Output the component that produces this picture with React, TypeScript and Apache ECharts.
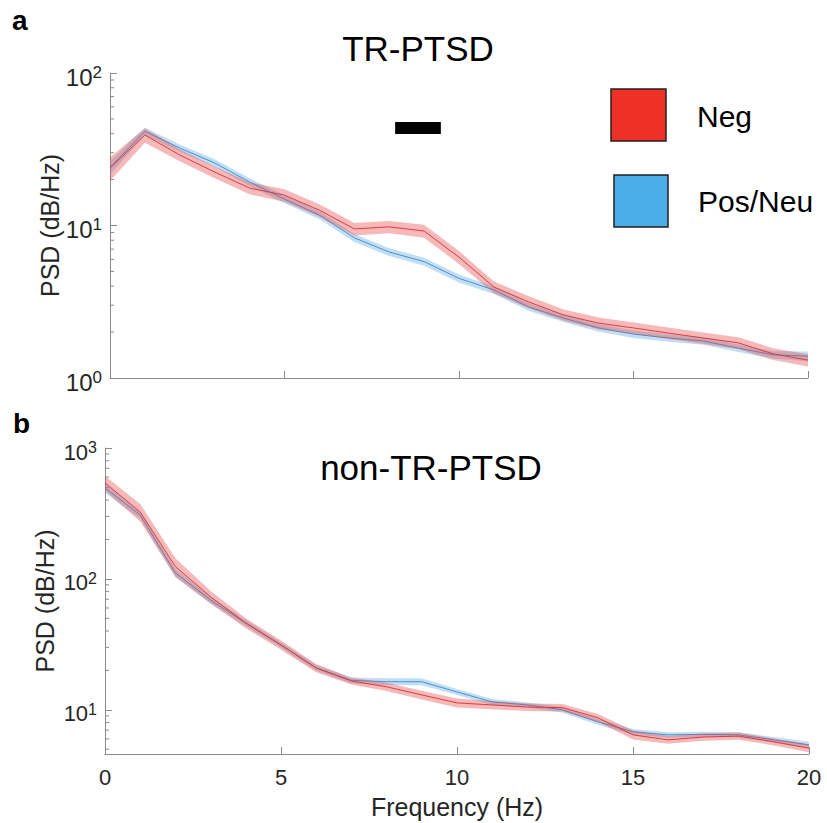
import React, { useEffect, useRef } from "react";
import * as echarts from "echarts";

// ---------- data ----------
const freq = [0, 1, 2, 3, 4, 5, 6, 7, 8, 9, 10, 11, 12, 13, 14, 15, 16, 17, 18, 19, 20];

// Panel a: TR-PTSD
const negTR = [23.8, 39.2, 29, 22.4, 17.6, 15.8, 12.6, 9.5, 9.8, 9.2, 6.2, 3.95, 3.15, 2.59, 2.29, 2.13, 1.97, 1.83, 1.7, 1.44, 1.31];
const negTRErr = [4.2, 4.3, 2.6, 2.0, 1.6, 1.5, 1.2, 0.9, 0.9, 0.9, 0.6, 0.35, 0.28, 0.22, 0.2, 0.18, 0.17, 0.16, 0.15, 0.13, 0.12];
const posTR = [24, 41.5, 32.2, 25.7, 19.3, 14.9, 11.7, 8.3, 6.7, 5.8, 4.5, 3.78, 2.92, 2.47, 2.13, 1.94, 1.83, 1.75, 1.57, 1.42, 1.39];
const posTRErr = [2.5, 2.3, 1.8, 1.5, 1.1, 0.9, 0.7, 0.5, 0.4, 0.35, 0.27, 0.22, 0.17, 0.14, 0.12, 0.11, 0.1, 0.1, 0.09, 0.08, 0.1];

// Panel b: non-TR-PTSD
const negNon = [541, 324, 124, 73, 46, 31.3, 20.9, 16.6, 15, 13, 11.3, 10.9, 10.5, 10.4, 8.7, 6.44, 5.9, 6.2, 6.3, 5.7, 5.1];
const negNonErr = [70, 50, 20, 8, 4, 2.5, 1.5, 1.0, 1.1, 1.0, 0.9, 0.8, 0.7, 0.7, 0.6, 0.5, 0.4, 0.4, 0.4, 0.35, 0.35];
const posNon = [495, 308, 111, 69, 46, 31.3, 20.9, 16.8, 16.4, 16.4, 13.7, 11.5, 10.9, 10.0, 8.1, 6.8, 6.44, 6.5, 6.44, 5.9, 5.4];
const posNonErr = [40, 20, 8, 4, 2.5, 1.5, 1.0, 0.9, 1.0, 1.0, 0.7, 0.6, 0.5, 0.5, 0.4, 0.35, 0.3, 0.3, 0.3, 0.3, 0.3];

// significance bar (panel a)
const sigStart = 8.17;
const sigEnd = 9.48;
const sigLevel = 43.6;

const titles = ["TR-PTSD", "non-TR-PTSD"];
const panelLabels = ["a", "b"];
const legendNames = ["Neg", "Pos/Neu"];
const xName = "Frequency (Hz)";
const yName = "PSD (dB/Hz)";
const yRangeA = [1, 100];
const yRangeB = [4.6, 1000];
const xRange = [0, 20];
const xInterval = 5;

// ---------- styles ----------
const FONT = "'Liberation Sans', Arial, Helvetica, sans-serif";
const AXIS = "#8a8a8a";
const TXT = "#262626";
const RED_LINE = "#e03a3c";
const BLUE_LINE = "#4a8fcf";
const RED_BAND = "rgba(230,70,70,0.38)";
const BLUE_BAND = "rgba(90,170,225,0.38)";

function minorVals(lo: number, hi: number) {
  const out: number[][] = [];
  for (let d = 1; d <= hi; d *= 10) {
    for (let m = 2; m <= 9; m++) {
      const v = m * d;
      if (v > lo && v < hi) out.push([0, v]);
    }
  }
  return out;
}

function powLabel(v: number) {
  const e = Math.log10(v);
  const r = Math.round(e);
  if (Math.abs(e - r) > 1e-6) return "";
  return `{b|10}{s|${r}}`;
}

function bandSeries(mean: number[], err: number[], color: string, gi: number, z: number) {
  const upper = mean.map((m, i) => m + err[i]);
  const lower = mean.map((m, i) => m - err[i]);
  return {
    type: "custom",
    xAxisIndex: gi,
    yAxisIndex: gi,
    z,
    silent: true,
    clip: true,
    data: [[freq[0], mean[0]]],
    renderItem: (params: any, api: any) => {
      const pts: number[][] = [];
      for (let i = 0; i < freq.length; i++) pts.push(api.coord([freq[i], upper[i]]));
      for (let i = freq.length - 1; i >= 0; i--) pts.push(api.coord([freq[i], lower[i]]));
      return { type: "polygon", shape: { points: pts }, style: { fill: color, stroke: "none" } };
    },
  };
}

function lineSeries(mean: number[], color: string, gi: number, z: number) {
  return {
    type: "line",
    xAxisIndex: gi,
    yAxisIndex: gi,
    z,
    showSymbol: false,
    symbol: "none",
    silent: true,
    data: freq.map((f, i) => [f, mean[i]]),
    lineStyle: { color, width: 1 },
  };
}

function minorTickSeries(lo: number, hi: number, gi: number) {
  return {
    type: "custom",
    xAxisIndex: gi,
    yAxisIndex: gi,
    z: 10,
    silent: true,
    clip: false,
    data: minorVals(lo, hi),
    renderItem: (params: any, api: any) => {
      const p = api.coord([api.value(0), api.value(1)]);
      return {
        type: "line",
        shape: { x1: p[0], y1: p[1], x2: p[0] + 4, y2: p[1] },
        style: { stroke: AXIS, lineWidth: 1 },
      };
    },
  };
}

export default function App() {
  const ref = useRef<HTMLDivElement>(null);
  useEffect(() => {
    if (!ref.current) return;
    const chart = echarts.init(ref.current, undefined, { renderer: "svg" });
    const yAxisBase = (range: number[], fs: number, sfs: number) => ({
      type: "log",
      logBase: 10,
      min: range[0],
      max: range[1],
      name: yName,
      nameLocation: "middle",
      nameGap: 48,
      nameMoveOverlap: false,
      nameTextStyle: { fontSize: 25, color: TXT, fontFamily: FONT },
      axisLine: { show: true, lineStyle: { color: AXIS, width: 1 } },
      axisTick: { show: true, inside: true, length: 7, lineStyle: { color: AXIS } },
      splitLine: { show: false },
      axisLabel: {
        formatter: powLabel,
        margin: 8,
        padding: [8, 0, 0, 0],
        rich: {
          b: { fontSize: fs, lineHeight: fs + 3, color: TXT, fontFamily: FONT },
          s: { fontSize: sfs, lineHeight: sfs, verticalAlign: "top", color: TXT, fontFamily: FONT },
        },
      },
    });
    const option: any = {
      animation: false,
      textStyle: { fontFamily: FONT },
      grid: [
        { left: 110, right: 19, top: 73, height: 305, containLabel: false },
        { left: 105, right: 18, top: 448, height: 306, containLabel: false },
      ],
      xAxis: [
        {
          gridIndex: 0,
          type: "value",
          min: xRange[0],
          max: xRange[1],
          interval: xInterval,
          axisLine: { lineStyle: { color: AXIS } },
          axisTick: { inside: true, length: 7, lineStyle: { color: AXIS } },
          axisLabel: { show: false },
          splitLine: { show: false },
        },
        {
          gridIndex: 1,
          type: "value",
          min: xRange[0],
          max: xRange[1],
          interval: xInterval,
          name: xName,
          nameLocation: "middle",
          nameGap: 40,
          nameMoveOverlap: false,
          nameTextStyle: { fontSize: 25, color: TXT, fontFamily: FONT },
          axisLine: { lineStyle: { color: AXIS } },
          axisTick: { inside: true, length: 7, lineStyle: { color: AXIS } },
          axisLabel: { fontSize: 22, color: TXT, margin: 12, fontFamily: FONT },
          splitLine: { show: false },
        },
      ],
      yAxis: [
        { gridIndex: 0, ...yAxisBase(yRangeA, 24, 17) },
        { gridIndex: 1, ...yAxisBase(yRangeB, 22, 16) },
      ],
      series: [
        bandSeries(posTR, posTRErr, BLUE_BAND, 0, 2),
        lineSeries(posTR, BLUE_LINE, 0, 3),
        bandSeries(negTR, negTRErr, RED_BAND, 0, 4),
        lineSeries(negTR, RED_LINE, 0, 5),
        {
          type: "line",
          xAxisIndex: 0,
          yAxisIndex: 0,
          z: 6,
          symbol: "none",
          silent: true,
          data: [
            [sigStart, sigLevel],
            [sigEnd, sigLevel],
          ],
          lineStyle: { color: "#000", width: 12, cap: "butt" },
        },
        minorTickSeries(yRangeA[0], yRangeA[1], 0),
        bandSeries(posNon, posNonErr, BLUE_BAND, 1, 2),
        lineSeries(posNon, BLUE_LINE, 1, 3),
        bandSeries(negNon, negNonErr, RED_BAND, 1, 4),
        lineSeries(negNon, RED_LINE, 1, 5),
        minorTickSeries(yRangeB[0], yRangeB[1], 1),
      ],
      graphic: [
        { type: "text", x: 12, y: 20, style: { text: panelLabels[0], font: `bold 28px ${FONT}`, fill: "#000", textVerticalAlign: "middle" } },
        { type: "text", x: 13, y: 423, style: { text: panelLabels[1], font: `bold 28px ${FONT}`, fill: "#000", textVerticalAlign: "middle" } },
        { type: "text", x: 418, y: 48, style: { text: titles[0], font: `35px ${FONT}`, fill: "#000", textAlign: "center", textVerticalAlign: "middle" } },
        { type: "text", x: 431, y: 467, style: { text: titles[1], font: `35px ${FONT}`, fill: "#000", textAlign: "center", textVerticalAlign: "middle" } },
        { type: "rect", shape: { x: 611, y: 89, width: 55, height: 52 }, style: { fill: "#ee3124", stroke: "#231f20", lineWidth: 1.5 } },
        { type: "rect", shape: { x: 614, y: 175, width: 54, height: 52 }, style: { fill: "#4baee8", stroke: "#231f20", lineWidth: 1.5 } },
        { type: "text", x: 697, y: 116, style: { text: legendNames[0], font: `30px ${FONT}`, fill: "#000", textVerticalAlign: "middle" } },
        { type: "text", x: 698, y: 201, style: { text: legendNames[1], font: `30px ${FONT}`, fill: "#000", textVerticalAlign: "middle" } },
      ],
    };
    chart.setOption(option);
    return () => chart.dispose();
  }, []);
  return (
    <div
      ref={ref}
      style={{ position: "absolute", left: 0, top: 0, width: 827, height: 823, background: "#fff" }}
    />
  );
}
